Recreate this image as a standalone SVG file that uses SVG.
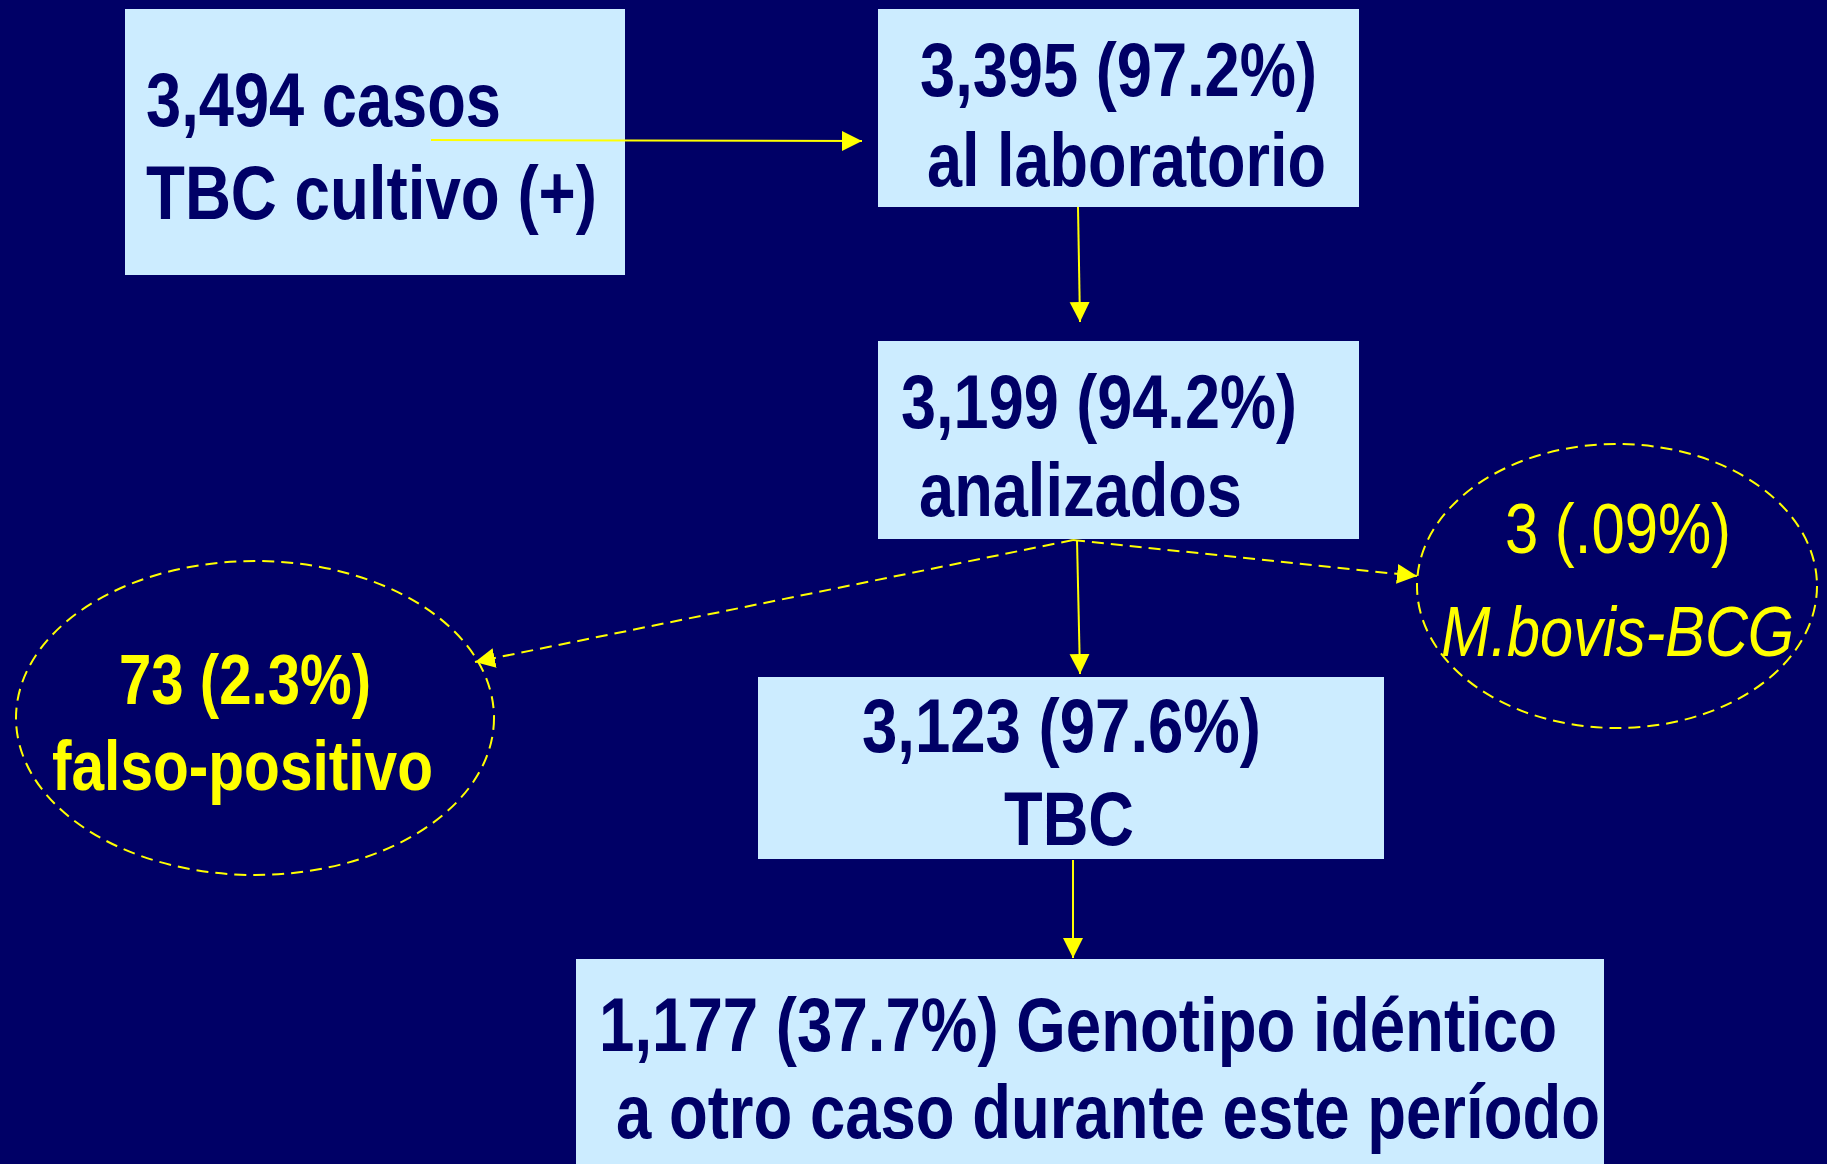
<svg xmlns="http://www.w3.org/2000/svg" width="1827" height="1164" viewBox="0 0 1827 1164">
<defs>
<style>
.box{fill:#CCECFF;stroke:none}
.nt{font-family:"Liberation Sans Narrow","Liberation Sans",Arial,sans-serif;font-weight:bold;font-size:76px;fill:#000066}
.yt{font-family:"Liberation Sans Narrow","Liberation Sans",Arial,sans-serif;font-size:70px;fill:#FFFF00}
.ell{fill:none;stroke:#FFFF00;stroke-width:2;stroke-dasharray:12 7}
.c{stroke:#FFFF00;stroke-width:2;fill:none}
.d{stroke-dasharray:12 7}
</style>
<marker id="ah" markerUnits="userSpaceOnUse" viewBox="0 0 10 10" markerWidth="20" markerHeight="22" refX="10" refY="5" orient="auto">
<path d="M0,0 L10,5 L0,10 z" fill="#FFFF00"/>
</marker>
</defs>
<rect width="1827" height="1164" fill="#000066"/>
<g id="n1">
<rect class="box" x="125" y="9" width="500" height="266"/>
<text class="nt" x="146" y="126" textLength="355" lengthAdjust="spacingAndGlyphs">3,494 casos</text>
<text class="nt" x="146" y="219" textLength="451" lengthAdjust="spacingAndGlyphs">TBC cultivo (+)</text>
</g>
<g id="n2">
<rect class="box" x="878" y="9" width="481" height="198"/>
<text class="nt" x="920" y="96" textLength="397" lengthAdjust="spacingAndGlyphs">3,395 (97.2%)</text>
<text class="nt" x="927" y="186" textLength="399" lengthAdjust="spacingAndGlyphs">al laboratorio</text>
</g>
<g id="n3">
<rect class="box" x="878" y="341" width="481" height="198"/>
<text class="nt" x="901" y="428" textLength="396" lengthAdjust="spacingAndGlyphs">3,199 (94.2%)</text>
<text class="nt" x="919" y="516" textLength="323" lengthAdjust="spacingAndGlyphs">analizados</text>
</g>
<g id="n4">
<rect class="box" x="758" y="677" width="626" height="182"/>
<text class="nt" x="862" y="752" textLength="399" lengthAdjust="spacingAndGlyphs">3,123 (97.6%)</text>
<text class="nt" x="1004" y="845" textLength="130" lengthAdjust="spacingAndGlyphs">TBC</text>
</g>
<g id="n5">
<rect class="box" x="576" y="959" width="1028" height="205"/>
<text class="nt" x="599" y="1051" textLength="958" lengthAdjust="spacingAndGlyphs">1,177 (37.7%) Genotipo idéntico</text>
<text class="nt" x="616" y="1138" textLength="984" lengthAdjust="spacingAndGlyphs">a otro caso durante este período</text>
</g>
<g id="n6">
<ellipse class="ell" cx="255" cy="718" rx="239" ry="157"/>
<text class="yt" x="119" y="704" font-weight="bold" textLength="252" lengthAdjust="spacingAndGlyphs">73 (2.3%)</text>
<text class="yt" x="52" y="790" font-weight="bold" textLength="381" lengthAdjust="spacingAndGlyphs">falso-positivo</text>
</g>
<g id="n7">
<ellipse class="ell" cx="1617" cy="586" rx="200" ry="142"/>
<text class="yt" x="1505" y="553" textLength="226" lengthAdjust="spacingAndGlyphs">3 (.09%)</text>
<text class="yt" x="1441" y="656" font-style="italic" textLength="353" lengthAdjust="spacingAndGlyphs">M.bovis-BCG</text>
</g>
<g id="connectors">
<line class="c" x1="431" y1="140" x2="862" y2="141" marker-end="url(#ah)"/>
<line class="c" x1="1078" y1="207" x2="1080" y2="322" marker-end="url(#ah)"/>
<line class="c" x1="1077" y1="540" x2="1080" y2="674" marker-end="url(#ah)"/>
<line class="c" x1="1073" y1="860" x2="1073" y2="958" marker-end="url(#ah)"/>
<line class="c d" x1="1073" y1="540" x2="475" y2="662" marker-end="url(#ah)"/>
<line class="c d" x1="1073" y1="540" x2="1417" y2="576" marker-end="url(#ah)"/>
</g>
</svg>
